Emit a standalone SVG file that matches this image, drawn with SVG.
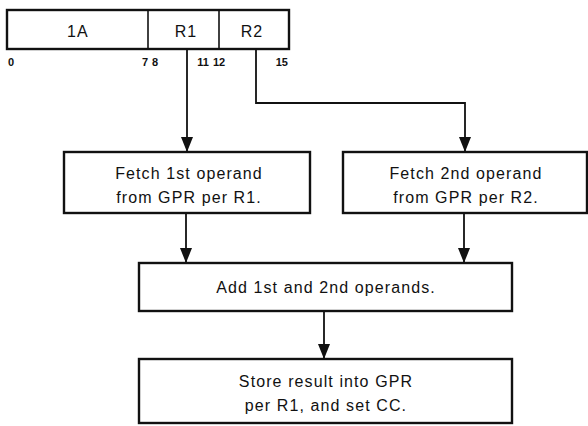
<svg xmlns="http://www.w3.org/2000/svg" width="588" height="426" viewBox="0 0 588 426">
<style>
.box{fill:#fff;stroke:#111;stroke-width:2.4}
.div{stroke:#111;stroke-width:1.6;fill:none}
.con{stroke:#111;stroke-width:1.8;fill:none}
.t{font-family:"Liberation Sans",Arial,sans-serif;font-size:16px;letter-spacing:1.1px;fill:#111;text-anchor:middle}
.n{font-family:"Liberation Sans",Arial,sans-serif;font-size:11px;font-weight:bold;fill:#111}
</style>
<defs>
<marker id="ah" markerUnits="userSpaceOnUse" viewBox="0 0 15 12" refX="15" refY="6" markerWidth="15" markerHeight="12" orient="auto">
<path d="M0,0 L15,6 L0,12 Z" fill="#111"/>
</marker>
</defs>
<rect width="588" height="426" fill="#fff"/>
<g id="format">
<rect class="box" x="7" y="10" width="282" height="39"/>
<line class="div" x1="148" y1="10" x2="148" y2="49"/>
<line class="div" x1="219" y1="10" x2="219" y2="49"/>
<text class="t" x="78" y="37">1A</text>
<text class="t" x="186" y="37">R1</text>
<text class="t" x="252" y="37">R2</text>
<text class="n" x="8" y="66">0</text>
<text class="n" x="148" y="66" text-anchor="end">7</text>
<text class="n" x="152" y="66">8</text>
<text class="n" x="209" y="66" text-anchor="end">11</text>
<text class="n" x="213" y="66">12</text>
<text class="n" x="288" y="66" text-anchor="end">15</text>
</g>
<g id="connectors">
<path class="con" d="M187,49 V152" marker-end="url(#ah)"/>
<path class="con" d="M256,49 V103 H465 V152" marker-end="url(#ah)"/>
<path class="con" d="M186,213 V263" marker-end="url(#ah)"/>
<path class="con" d="M464,213 V263" marker-end="url(#ah)"/>
<path class="con" d="M324,311 V359" marker-end="url(#ah)"/>
</g>
<g id="fetch1">
<rect class="box" x="64" y="152" width="246" height="61"/>
<text class="t" x="189" y="179">Fetch 1st operand</text>
<text class="t" x="189" y="203">from GPR per R1.</text>
</g>
<g id="fetch2">
<rect class="box" x="343" y="152" width="244" height="61"/>
<text class="t" x="466" y="179">Fetch 2nd operand</text>
<text class="t" x="466" y="203">from GPR per R2.</text>
</g>
<g id="add">
<rect class="box" x="139" y="263" width="373" height="48"/>
<text class="t" x="326" y="293">Add 1st and 2nd operands.</text>
</g>
<g id="store">
<rect class="box" x="139" y="359" width="373" height="64"/>
<text class="t" x="326" y="387">Store result into GPR</text>
<text class="t" x="326" y="411">per R1, and set CC.</text>
</g>
</svg>
